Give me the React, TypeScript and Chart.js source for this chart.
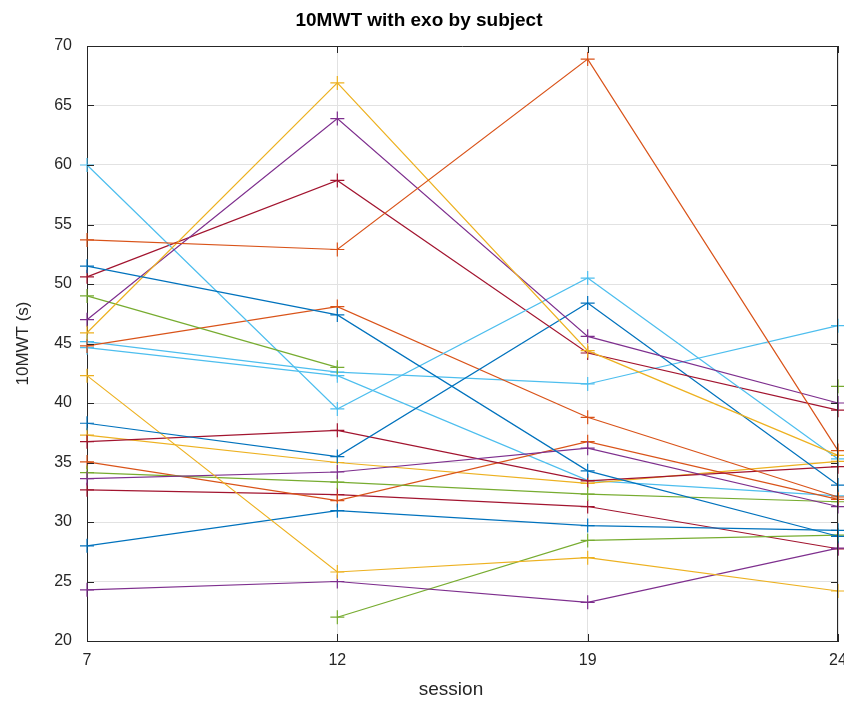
import React, { useEffect, useRef } from "react";
import { Chart, registerables } from "chart.js";

Chart.register(...registerables);

// Sessions (x categories)
const sessions = ["7", "12", "19", "24"];

// 10MWT times (s) per subject, one value per session (null = not measured)
const subj01 = [51.5, 47.4, 34.3, 28.8];
const subj02 = [53.7, 52.9, 68.9, 36.0];
const subj03 = [45.9, 66.9, 44.4, 35.6];
const subj04 = [47.0, 63.9, 45.6, 40.0];
const subj05 = [49.0, 43.0, null, 41.4];
const subj06 = [60.0, 39.5, 50.5, 35.3];
const subj07 = [50.6, 58.7, 44.2, 39.4];
const subj08 = [38.3, 35.5, 48.4, 33.1];
const subj09 = [44.8, 48.1, 38.8, 32.1];
const subj10 = [42.3, 25.8, 27.0, 24.2];
const subj11 = [33.65, 34.2, 36.2, 31.3];
const subj12 = [34.15, 33.35, 32.35, 31.7];
const subj13 = [45.15, 42.6, 41.6, 46.5];
const subj14 = [36.75, 37.7, 33.45, 34.65];
const subj15 = [28.0, 30.95, 29.7, 29.3];
const subj16 = [35.05, 31.8, 36.75, 31.9];
const subj17 = [37.3, 35.0, 33.25, 35.1];
const subj18 = [24.3, 25.0, 23.25, 27.8];
const subj19 = [null, 22.0, 28.45, 28.9];
const subj20 = [44.65, 42.3, 33.5, 32.2];
const subj21 = [32.7, 32.3, 31.3, 27.75];

const subjects = [
  subj01, subj02, subj03, subj04, subj05, subj06, subj07,
  subj08, subj09, subj10, subj11, subj12, subj13, subj14,
  subj15, subj16, subj17, subj18, subj19, subj20, subj21,
];

// MATLAB default color order
const colorOrder = ["#0072BD", "#D95319", "#EDB120", "#7E2F8E", "#77AC30", "#4DBEEE", "#A2142F"];

const yMin = 20;
const yMax = 70;
const yStep = 5;

const xAxisTitle = "session";

const FONT = "'Liberation Sans', Arial, Helvetica, sans-serif";
const AXIS_COLOR = "#262626";

const boxPlugin = {
  id: "matlabBox",
  afterDraw(chart: any) {
    const { ctx, chartArea } = chart;
    const { left, right, top, bottom } = chartArea;
    const xs = chart.scales.x;
    const ys = chart.scales.y;
    const tl = 7;
    ctx.save();
    ctx.strokeStyle = AXIS_COLOR;
    ctx.lineWidth = 1;
    ctx.beginPath();
    // box top & right
    ctx.moveTo(left, top + 0.5);
    ctx.lineTo(right, top + 0.5);
    ctx.moveTo(right - 0.5, top);
    ctx.lineTo(right - 0.5, bottom);
    // inward ticks
    xs.ticks.forEach((_t: any, i: number) => {
      const px = Math.round(xs.getPixelForTick(i)) + 0.5;
      ctx.moveTo(px, bottom);
      ctx.lineTo(px, bottom - tl);
      ctx.moveTo(px, top);
      ctx.lineTo(px, top + tl);
    });
    ys.ticks.forEach((_t: any, i: number) => {
      const py = Math.round(ys.getPixelForTick(i)) + 0.5;
      ctx.moveTo(left, py);
      ctx.lineTo(left + tl, py);
      ctx.moveTo(right, py);
      ctx.lineTo(right - tl, py);
    });
    ctx.stroke();
    // x axis title
    ctx.fillStyle = "#262626";
    ctx.font = `19px ${FONT}`;
    ctx.textAlign = "center";
    ctx.textBaseline = "middle";
    ctx.fillText(xAxisTitle, 451, 690);
    ctx.restore();
  },
};

export default function App() {
  const canvasRef = useRef<HTMLCanvasElement | null>(null);

  useEffect(() => {
    if (!canvasRef.current) return;
    const datasets = subjects.map((vals, i) => {
      const c = colorOrder[i % colorOrder.length];
      return {
        label: "S" + (i + 1),
        data: vals,
        borderColor: c,
        backgroundColor: c,
        borderWidth: 1.2,
        pointStyle: "cross" as const,
        pointRadius: 7,
        pointBorderWidth: 1.2,
        pointHoverRadius: 7,
        pointBorderColor: c,
        tension: 0,
        spanGaps: false,
        clip: false as any,
      };
    });

    const chart = new Chart(canvasRef.current, {
      type: "line",
      data: { labels: sessions, datasets },
      options: {
        responsive: false,
        animation: false,
        events: [],
        layout: { autoPadding: false, padding: { left: 0, right: 6, top: 0, bottom: 0 } },
        plugins: {
          legend: { display: false },
          tooltip: { enabled: false },
          title: {
            display: true,
            text: "10MWT with exo by subject",
            color: "#000",
            font: { family: FONT, size: 19, weight: "bold" },
            padding: { top: 9, bottom: 14.2 },
          },
        },
        scales: {
          x: {
            type: "category",
            offset: false,
            grid: { color: "#e2e2e2", lineWidth: 1, drawTicks: false },
            border: { display: true, color: AXIS_COLOR, width: 1 },
            ticks: {
              color: "#262626",
              font: { family: FONT, size: 16 },
              padding: 10,
              maxRotation: 0,
            },
            title: { display: false },
            afterFit(scale: any) {
              scale.height = 63;
              scale.paddingLeft = 0;
              scale.paddingRight = 0;
            },
          },
          y: {
            min: yMin,
            max: yMax,
            grid: { color: "#e2e2e2", lineWidth: 1, drawTicks: false },
            border: { display: true, color: AXIS_COLOR, width: 1 },
            ticks: {
              stepSize: yStep,
              color: "#262626",
              font: { family: FONT, size: 16 },
              padding: 15,
            },
            title: {
              display: true,
              text: "10MWT (s)",
              color: "#262626",
              font: { family: FONT, size: 17 },
              padding: { top: 13, bottom: 0 },
            },
            afterFit(scale: any) {
              scale.width = 87;
              scale.paddingTop = 0;
              scale.paddingBottom = 0;
            },
          },
        },
      },
      plugins: [boxPlugin],
    });

    return () => {
      chart.destroy();
    };
  }, []);

  return (
    <div style={{ position: "absolute", left: 0, top: 0, width: 844, height: 704, background: "#fff" }}>
      <canvas ref={canvasRef} width={844} height={704} style={{ display: "block" }} />
    </div>
  );
}
